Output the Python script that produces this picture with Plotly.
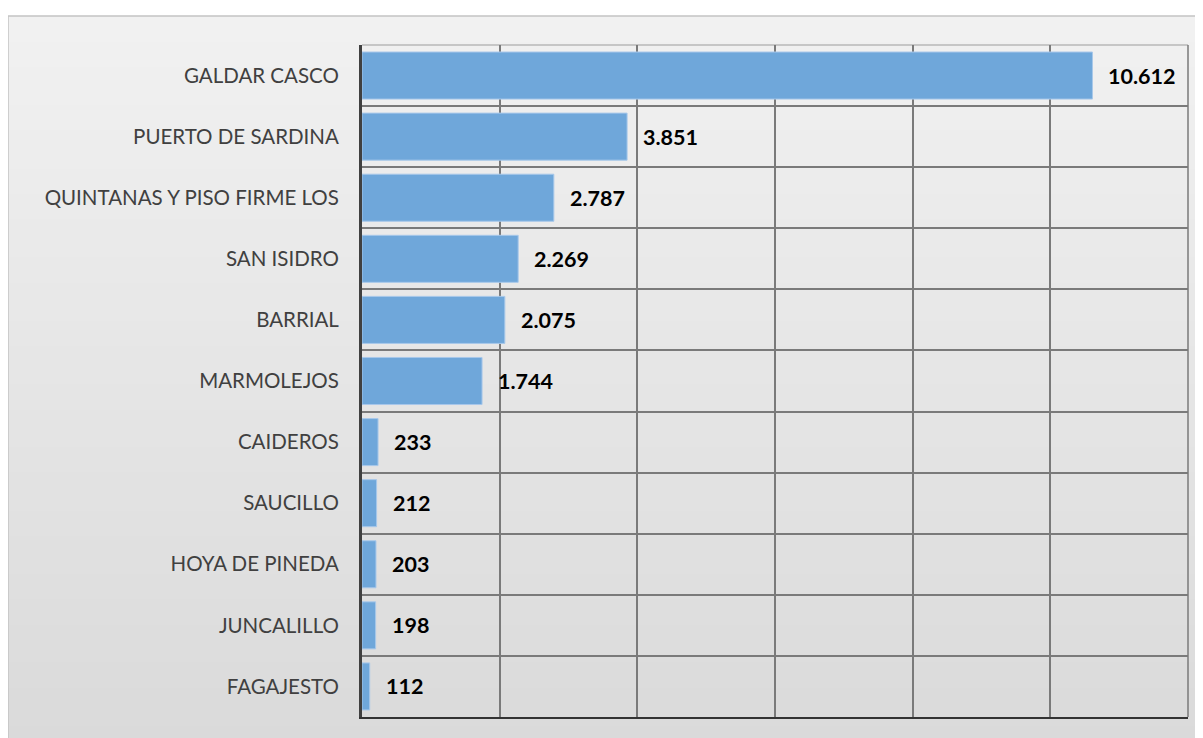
import plotly.graph_objects as go

categories = ["GALDAR CASCO", "PUERTO DE SARDINA", "QUINTANAS Y PISO FIRME LOS",
              "SAN ISIDRO", "BARRIAL", "MARMOLEJOS", "CAIDEROS", "SAUCILLO",
              "HOYA DE PINEDA", "JUNCALILLO", "FAGAJESTO"]
values = [10612, 3851, 2787, 2269, 2075, 1744, 233, 212, 203, 198, 112]

def fmt(v):
    return f"{v:,}".replace(",", ".")

fig = go.Figure()
fig.add_trace(go.Bar(
    x=values, y=categories, orientation="h",
    marker=dict(color="#6fa7da", line=dict(color="#a8c8ea", width=1)),
    hoverinfo="x+y",
))

for c, v in zip(categories, values):
    fig.add_annotation(x=v, y=c, xref="x", yref="y", text=fmt(v), showarrow=False,
                       xanchor="left", xshift=14,
                       font=dict(family="Lato", size=21.5, color="#000000", weight="bold"))

# page offset of 8px (body margin) -> figure origin at page (8,8)
W, H = 826.0, 672.0
y_top = 1 + (37 - 8) / H
y_bot = -60 / H
x_left = (0 - 354) / W
x_right = 1 + 40 / W
n = 60
top_c = (0xf1, 0xf1, 0xf1)
bot_c = (0xd9, 0xd9, 0xd9)
shapes = []
step = (y_top - y_bot) / n
for i in range(n):
    t = i / (n - 1)
    col = tuple(round(top_c[k] + (bot_c[k] - top_c[k]) * t) for k in range(3))
    y1 = y_top - step * i
    y0 = max(y_bot, y1 - step * 1.6)
    shapes.append(dict(type="rect", xref="paper", yref="paper", x0=x_left, x1=x_right,
                       y0=y0, y1=y1, fillcolor="rgb(%d,%d,%d)" % col,
                       line=dict(width=0), layer="below"))
shapes.append(dict(type="rect", xref="paper", yref="paper", x0=x_left, x1=x_right,
                   y0=y_bot, y1=y_top, fillcolor="rgba(0,0,0,0)",
                   line=dict(color="#c4c4c4", width=1.5), layer="below"))
# top and right plot borders
shapes.append(dict(type="line", xref="paper", yref="paper", x0=0, x1=1, y0=1, y1=1,
                   line=dict(color="#b8b8b8", width=1.5), layer="below"))
shapes.append(dict(type="line", xref="paper", yref="paper", x0=1, x1=1, y0=0, y1=1,
                   line=dict(color="#7a7a7a", width=1.5), layer="below"))

fig.update_layout(
    width=1195, height=730,
    margin=dict(l=354, r=15, t=37, b=21, pad=0),
    paper_bgcolor="white", plot_bgcolor="rgba(0,0,0,0)",
    bargap=0.23, showlegend=False, shapes=shapes,
    font=dict(family="Lato", size=20.5, color="#404040"),
    xaxis=dict(range=[0, 12000], dtick=2000, showticklabels=False, showgrid=True,
               gridcolor="#7a7a7a", gridwidth=1.5, zeroline=False,
               showline=True, linecolor="#333333", linewidth=2, mirror=False, ticks=""),
    yaxis=dict(autorange="reversed", tickson="boundaries", showgrid=True,
               gridcolor="#7a7a7a", gridwidth=1.5, showline=True, linecolor="#404040",
               linewidth=3, ticks="", ticklen=0, ticklabelstandoff=16,
               tickfont=dict(family="Lato", size=20.5, color="#404040")),
)

fig.write_html("out.html")
